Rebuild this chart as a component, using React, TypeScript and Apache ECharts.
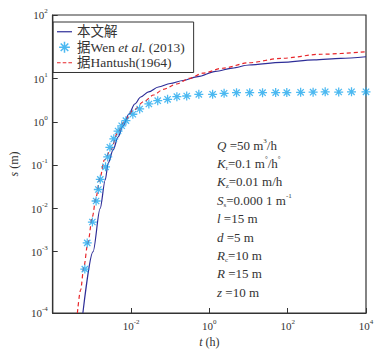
import React, { useEffect, useRef } from "react";
import * as echarts from "echarts";

const FONT = "'Liberation Serif', 'Times New Roman', 'Noto Sans CJK SC', serif";
const TEXT_COLOR = "#333";
const BLUE = "#2e2e98";
const CYAN = "#1fa8ee";
const RED = "#e8262a";

// y axis: decades of the original figure are not equally tall, so the scale is piecewise log
const Y_EXPONENTS = [-4, -3, -2, -1, 0, 1, 2];
const Y_DECADE_POS = [0, 61.3, 104.3, 148, 190.7, 234.3, 298];
const X_LABEL_EXPONENTS = [-2, 0, 2, 4];
const X_TICK_EXPONENTS = [-4, -2, 0, 2, 4];

const SERIES_NAMES = ["本文解", "据Wen et al. (2013)", "据Hantush(1964)"];

// 本文解
const modelT = [5.89e-4, 1.07e-3, 1.62e-3, 2.19e-3, 2.61e-3, 3.48e-3, 4.66e-3, 6.22e-3, 8.81e-3, 0.01247, 0.01767, 0.0281, 0.05, 0.1, 0.213, 0.508, 1.44, 3.86, 10.3, 69.8, 472, 2259, 10000];
const modelS = [1e-4, 1e-3, 1e-2, 0.0454, 0.111, 0.225, 0.453, 0.819, 1.55, 2.63, 3.8, 5.0, 6.45, 7.76, 9.1, 10.8, 13.0, 14.7, 16.4, 18.1, 19.7, 20.9, 22.1];

// 据Wen et al. (2013)
const wenT = [6.6e-4, 7.6e-4, 1.03e-3, 1.28e-3, 1.46e-3, 1.64e-3, 2.23e-3, 2.54e-3, 2.88e-3, 3.63e-3, 4.66e-3, 5.77e-3, 7.4e-3, 0.0111, 0.0166, 0.0285, 0.048, 0.0857, 0.148, 0.264, 0.538, 1.21, 2.38, 4.94, 10.7, 22.8, 49.3, 94.9, 214, 446, 908, 2010, 4266, 10000];
const wenS = [5.2e-4, 1.6e-3, 4.9e-3, 0.015, 0.0275, 0.047, 0.091, 0.154, 0.26, 0.41, 0.625, 0.83, 1.09, 1.53, 2.02, 2.63, 3.13, 3.37, 3.86, 4.01, 4.39, 4.39, 4.63, 4.77, 4.77, 4.77, 4.8, 4.8, 4.88, 4.9, 5.0, 4.95, 5.0, 5.0];

// 据Hantush(1964)
const hantushT = [4.26e-4, 5.15e-4, 6.24e-4, 7.87e-4, 1.03e-3, 1.28e-3, 1.64e-3, 2.07e-3, 3.05e-3, 4.47e-3, 6.59e-3, 0.01175, 0.021, 0.0375, 0.0668, 0.1445, 0.314, 0.678, 2.16, 10.1, 69.8, 708, 10000];
const hantushS = [1e-4, 2.37e-4, 5.69e-4, 1.57e-3, 6.5e-3, 0.0188, 0.054, 0.131, 0.225, 0.553, 1.03, 1.91, 2.97, 4.23, 5.71, 7.56, 10.15, 12.2, 14.6, 17.8, 20.9, 24.2, 26.5];

const ANNOTATIONS = [
  "{i|Q}{n| =50 m}{sup|3}{n|/h}",
  "{i|K}{sub|r}{n|=0.1 m}{sup|°}{n|/h}{sup|°}",
  "{i|K}{sub|z}{n|=0.01 m/h}",
  "{i|S}{sub|s}{n|=0.000 1 m}{sup|-1}",
  "{i|l}{n| =15 m}",
  "{i|d}{n| =5 m}",
  "{i|R}{sub|c}{n|=10 m}",
  "{i|R}{n| =15 m}",
  "{i|z}{n| =10 m}",
];

function yScale(s: number): number {
  const L = Math.log10(s);
  const n = Y_EXPONENTS.length;
  for (let i = 0; i < n - 1; i++) {
    if (L <= Y_EXPONENTS[i + 1] || i === n - 2) {
      const f = (L - Y_EXPONENTS[i]) / (Y_EXPONENTS[i + 1] - Y_EXPONENTS[i]);
      return Y_DECADE_POS[i] + f * (Y_DECADE_POS[i + 1] - Y_DECADE_POS[i]);
    }
  }
  return 0;
}

const pairs = (ts: number[], ss: number[]) => ts.map((t, i) => [Math.log10(t), yScale(ss[i])]);

const STAR_D = "M4.3 0L5.7 0L5.7 10L4.3 10Z M0 4.3L10 4.3L10 5.7L0 5.7Z M1 2L2 1L9 8L8 9Z M8 1L9 2L2 9L1 8Z";
const STAR = "path://" + STAR_D;
// same star with tiny slivers at the corners so it is drawn a little smaller inside the legend
const STAR_LEGEND = "path://" + STAR_D + " M-1 -1L-0.99 -1L-1 -0.99Z M11 11L10.99 11L11 10.99Z";
const SOLID_LEGEND = "path://M0 0L15 0L15 1.2L0 1.2Z";
const DASH_LEGEND = "path://M0 0L3.6 0L3.6 1.2L0 1.2Z M5.7 0L9.3 0L9.3 1.2L5.7 1.2Z M11.4 0L15 0L15 1.2L11.4 1.2Z";

const supRich = {
  b: { fontFamily: FONT, fontSize: 11, lineHeight: 15, color: TEXT_COLOR },
  s: { fontFamily: FONT, fontSize: 7, lineHeight: 8, verticalAlign: "top", color: TEXT_COLOR },
};

export default function App() {
  const ref = useRef<HTMLDivElement>(null);
  useEffect(() => {
    if (!ref.current) return;
    const chart = echarts.init(ref.current, undefined, { renderer: "svg" });
    const annoRich = {
      n: { fontFamily: FONT, fontSize: 13, lineHeight: 16, fill: TEXT_COLOR },
      i: { fontFamily: FONT, fontSize: 13, lineHeight: 16, fontStyle: "italic", fill: TEXT_COLOR },
      sup: { fontFamily: FONT, fontSize: 7, lineHeight: 9, verticalAlign: "top", fill: TEXT_COLOR },
      sub: { fontFamily: FONT, fontSize: 7, lineHeight: 8, verticalAlign: "bottom", fill: TEXT_COLOR },
    };
    chart.setOption({
      animation: false,
      grid: { left: 48, right: 15, top: 15, bottom: 41, show: true, borderColor: "#333", borderWidth: 1.2 },
      legend: {
        orient: "vertical",
        left: 53,
        top: 22,
        padding: [3, 9, 3, 4],
        itemGap: 2,
        itemWidth: 15,
        itemHeight: 13,
        borderColor: "#333",
        borderWidth: 1,
        data: [
          { name: SERIES_NAMES[0], icon: SOLID_LEGEND, itemStyle: { color: BLUE } },
          { name: SERIES_NAMES[1], icon: STAR_LEGEND, itemStyle: { color: CYAN } },
          { name: SERIES_NAMES[2], icon: DASH_LEGEND, itemStyle: { color: RED } },
        ],
        formatter: (name: string) =>
          name === SERIES_NAMES[1] ? "{n|据Wen }{i|et al.}{n| (2013)}" : `{n|${name}}`,
        textStyle: {
          fontFamily: FONT,
          fontSize: 13.5,
          lineHeight: 13,
          color: TEXT_COLOR,
          rich: {
            n: { fontFamily: FONT, fontSize: 13.5, lineHeight: 13, color: TEXT_COLOR },
            i: { fontFamily: FONT, fontSize: 13.5, lineHeight: 13, fontStyle: "italic", color: TEXT_COLOR },
          },
        },
      },
      xAxis: {
        type: "value",
        min: -4,
        max: 4,
        name: "{i|t} (h)",
        nameLocation: "middle",
        nameGap: 21,
        nameTextStyle: {
          fontFamily: FONT,
          fontSize: 12,
          color: TEXT_COLOR,
          rich: { i: { fontFamily: FONT, fontSize: 12, fontStyle: "italic", color: TEXT_COLOR } },
        },
        axisLine: { onZero: false, lineStyle: { color: "#333", width: 1.2 } },
        axisTick: { inside: true, length: 5, customValues: X_TICK_EXPONENTS, lineStyle: { color: "#333" } },
        axisLabel: {
          customValues: X_LABEL_EXPONENTS,
          margin: 5,
          fontFamily: FONT,
          formatter: (v: number) => `{b|10}{s|${Math.round(v)}}`,
          rich: supRich,
        },
        splitLine: { show: false },
      },
      yAxis: {
        type: "value",
        min: 0,
        max: Y_DECADE_POS[Y_DECADE_POS.length - 1],
        name: "{i|s} (m)",
        nameLocation: "middle",
        nameGap: 30,
        nameTextStyle: {
          fontFamily: FONT,
          fontSize: 12,
          color: TEXT_COLOR,
          rich: { i: { fontFamily: FONT, fontSize: 12, fontStyle: "italic", color: TEXT_COLOR } },
        },
        axisLine: { show: true, onZero: false, lineStyle: { color: "#333", width: 1.2 } },
        axisTick: { show: true, inside: true, length: 5, customValues: Y_DECADE_POS, lineStyle: { color: "#333" } },
        axisLabel: {
          customValues: Y_DECADE_POS,
          margin: 5,
          fontFamily: FONT,
          formatter: (v: number) => {
            let idx = 0;
            Y_DECADE_POS.forEach((p, i) => {
              if (Math.abs(p - v) < Math.abs(Y_DECADE_POS[idx] - v)) idx = i;
            });
            return `{b|10}{s|${Y_EXPONENTS[idx]}}`;
          },
          rich: supRich,
        },
        splitLine: { show: false },
      },
      series: [
        {
          name: SERIES_NAMES[0],
          type: "line",
          data: pairs(modelT, modelS),
          symbol: "none",
          smooth: 0.3,
          smoothMonotone: "x",
          lineStyle: { color: BLUE, width: 1.2 },
          itemStyle: { color: BLUE },
          z: 2,
        },
        {
          name: SERIES_NAMES[1],
          type: "scatter",
          data: pairs(wenT, wenS),
          symbol: STAR,
          symbolSize: 9,
          itemStyle: { color: CYAN },
          z: 4,
        },
        {
          name: SERIES_NAMES[2],
          type: "line",
          data: pairs(hantushT, hantushS),
          symbol: "none",
          smooth: 0.3,
          smoothMonotone: "x",
          lineStyle: { color: RED, width: 1.2, type: [4, 3] },
          itemStyle: { color: RED },
          z: 3,
        },
      ],
      graphic: ANNOTATIONS.map((t, i) => ({
        type: "text",
        x: 217,
        y: 145 + i * 18.4,
        style: {
          text: t,
          rich: annoRich,
          fontFamily: FONT,
          fontSize: 13,
          fill: TEXT_COLOR,
          verticalAlign: "middle",
        },
      })),
    });
    return () => chart.dispose();
  }, []);
  return <div ref={ref} style={{ position: "fixed", left: 0, top: 0, width: 381, height: 354, background: "#fff" }} />;
}
